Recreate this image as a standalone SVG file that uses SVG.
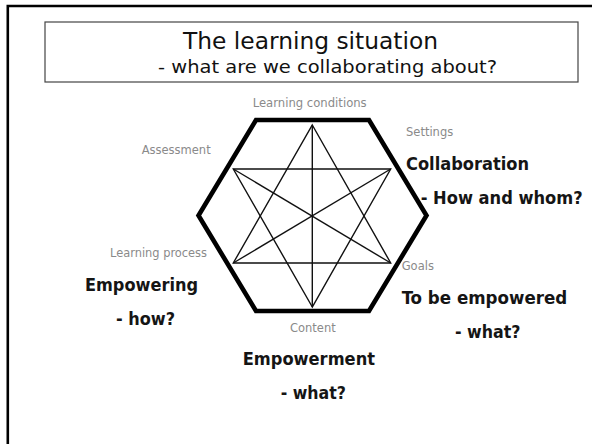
<svg xmlns="http://www.w3.org/2000/svg" width="592" height="444" viewBox="0 0 592 444">
<style>
.lbl{font-family:"DejaVu Sans","Liberation Sans",sans-serif;font-size:11.5px;fill:#8a8a8a}
.bold{font-family:"DejaVu Sans Condensed","DejaVu Sans","Liberation Sans",sans-serif;font-stretch:condensed;font-weight:bold;font-size:18px;fill:#151515}
.ttl{font-family:"DejaVu Sans","Liberation Sans",sans-serif;fill:#111}
.star{stroke:#111;stroke-width:1.4;fill:none}
</style>
<rect width="592" height="444" fill="#fff"/>
<path d="M7.8 450 V6 H600" fill="none" stroke="#000" stroke-width="2.6"/>
<g id="title">
<rect x="45" y="22" width="533" height="60" fill="#fff" stroke="#444" stroke-width="1.2"/>
<text class="ttl" x="183" y="49" font-size="23" textLength="255" lengthAdjust="spacingAndGlyphs">The learning situation</text>
<text class="ttl" x="158" y="73" font-size="18" textLength="339" lengthAdjust="spacingAndGlyphs">- what are we collaborating about?</text>
</g>
<g id="hexagon">
<polygon points="256,120 369,120 426.5,215.5 369,311 256,311 198.5,215.5" fill="#fff" stroke="#000" stroke-width="4.6" stroke-linejoin="miter"/>
</g>
<g id="connectors">
<polygon class="star" points="312.3,125 390.7,263 233.3,263"/>
<polygon class="star" points="312.3,307 233.3,169 390.7,169"/>
<line class="star" x1="312.3" y1="125" x2="312.3" y2="307"/>
<line class="star" x1="233.3" y1="169" x2="390.7" y2="263"/>
<line class="star" x1="390.7" y1="169" x2="233.3" y2="263"/>
</g>
<g id="labels">
<text class="lbl" x="252.7" y="107" textLength="114" lengthAdjust="spacingAndGlyphs">Learning conditions</text>
<text class="lbl" x="141.7" y="154">Assessment</text>
<text class="lbl" x="406" y="136">Settings</text>
<text class="lbl" x="110" y="256.7" textLength="97" lengthAdjust="spacingAndGlyphs">Learning process</text>
<text class="lbl" x="401.7" y="270">Goals</text>
<text class="lbl" x="290" y="331.7">Content</text>
</g>
<g id="collaboration">
<text class="bold" x="406" y="170" textLength="123" lengthAdjust="spacingAndGlyphs">Collaboration</text>
<text class="bold" x="420.7" y="204" textLength="162" lengthAdjust="spacingAndGlyphs">- How and whom?</text>
</g>
<g id="to-be-empowered">
<text class="bold" x="401.7" y="304" textLength="165.5" lengthAdjust="spacingAndGlyphs">To be empowered</text>
<text class="bold" x="455" y="338" textLength="65.5" lengthAdjust="spacingAndGlyphs">- what?</text>
</g>
<g id="empowering">
<text class="bold" x="85" y="290.5" textLength="113" lengthAdjust="spacingAndGlyphs">Empowering</text>
<text class="bold" x="116" y="325" textLength="59" lengthAdjust="spacingAndGlyphs">- how?</text>
</g>
<g id="empowerment">
<text class="bold" x="242.7" y="365" textLength="132.3" lengthAdjust="spacingAndGlyphs">Empowerment</text>
<text class="bold" x="280.7" y="399.3" textLength="65.3" lengthAdjust="spacingAndGlyphs">- what?</text>
</g>
</svg>
